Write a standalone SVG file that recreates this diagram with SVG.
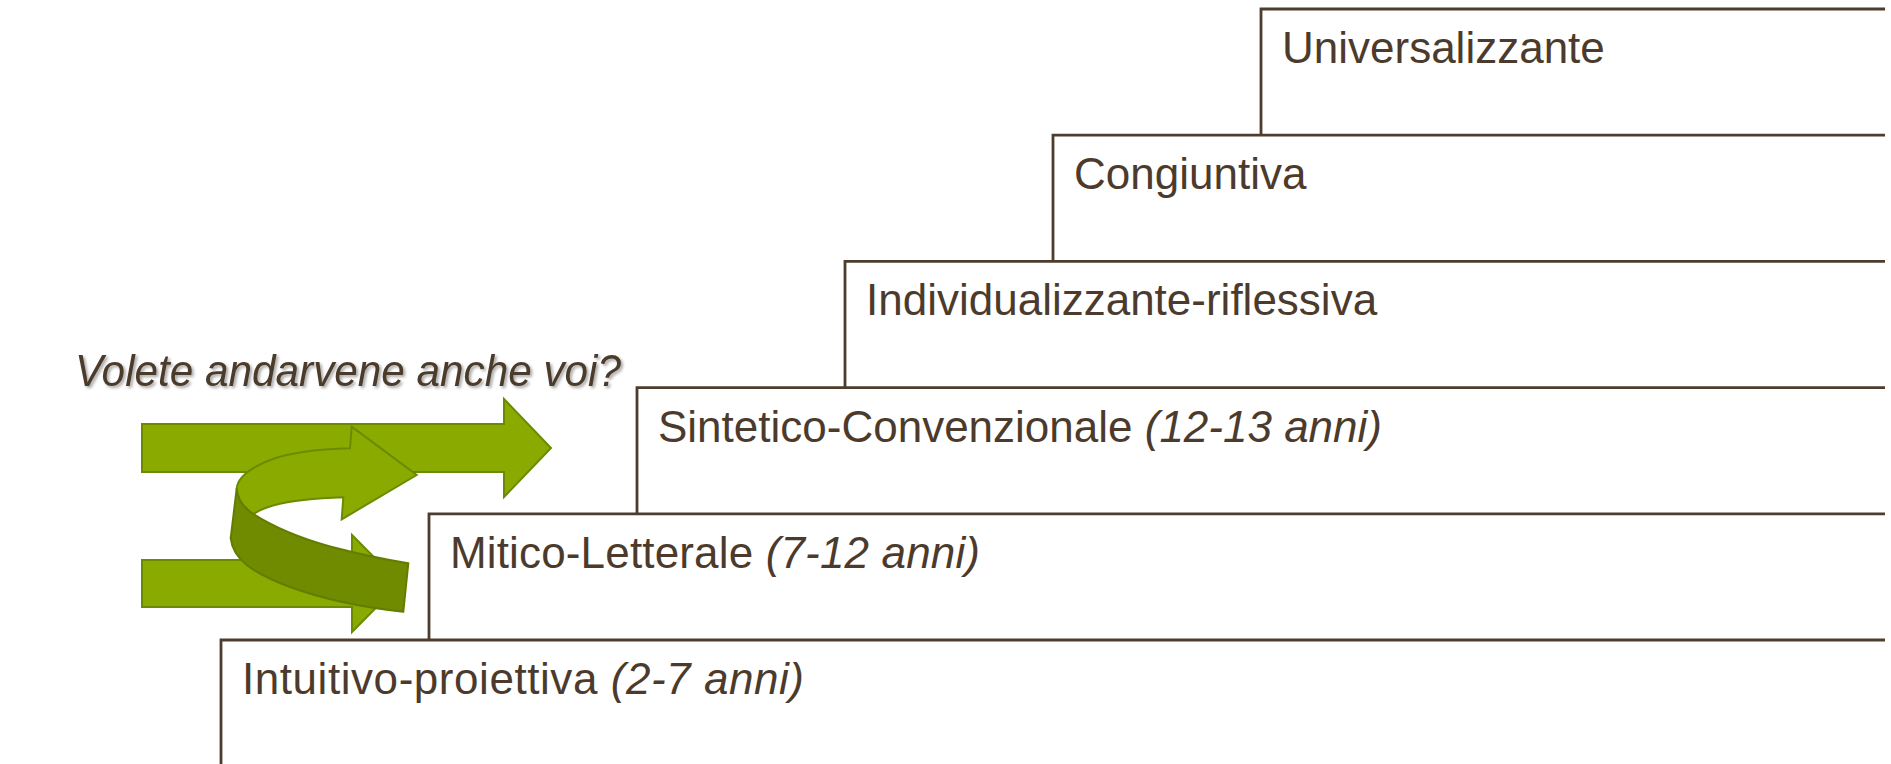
<svg xmlns="http://www.w3.org/2000/svg" width="1891" height="764" viewBox="0 0 1891 764">
<defs>
<filter id="sh" x="-5%" y="-30%" width="110%" height="160%">
<feDropShadow dx="2" dy="2" stdDeviation="1.5" flood-color="#000" flood-opacity="0.35"/>
</filter>
</defs>
<style>
.step{fill:none;stroke:#4d3d2e;stroke-width:2.8}
.lbl{font-family:"Liberation Sans",Arial,sans-serif;font-size:44px;fill:#4c3b2c}
.it{font-style:italic}
.arr{fill:#8aaa00;stroke:#6b8a00;stroke-width:2;stroke-linejoin:miter}
.dark{fill:#718b00;stroke:#627d00;stroke-width:2}
</style>
<rect width="1891" height="764" fill="#fff"/>
<g id="arrows">
<polygon class="arr" points="142,424 504,424 504,399 551,448 504,497 504,472 142,472"/>
<polygon class="arr" points="142,560 352,560 352,535 400,583.5 352,632 352,607 142,607"/>
<path class="arr" d="M236.7,488.3 C238,474 262,458 303,452 C320,449.5 335,448.6 350,448.3 L351.7,426.7 L416.7,475 L341.7,519.3 L343.3,497.3 C318,498 290,501 273,505.5 C264,508 258,511 253.3,514 C244,508 237,499 236.7,488.3 Z"/>
<path class="dark" d="M236.7,488.3 C237,499 244,508 253.3,514 C272,526 300,538 330,546.5 C355,553 382,559 408.3,563.3 L403.3,611.7 C360,607 320,598 290,587 C250,572 233,558 230.7,538.3 Z"/>
</g>
<g id="steps">
<g id="step-universalizzante">
<path class="step" d="M1261,135.2 V9 H1885"/>
<text class="lbl" x="1282" y="63">Universalizzante</text>
</g>
<g id="step-congiuntiva">
<path class="step" d="M1053,261.4 V135.2 H1885"/>
<text class="lbl" x="1074" y="189.2">Congiuntiva</text>
</g>
<g id="step-individualizzante">
<path class="step" d="M845,387.6 V261.4 H1885"/>
<text class="lbl" x="866" y="315.4">Individualizzante-riflessiva</text>
</g>
<g id="step-sintetico">
<path class="step" d="M637,513.8 V387.6 H1885"/>
<text class="lbl" x="658" y="441.6">Sintetico-Convenzionale <tspan class="it">(12-13 anni)</tspan></text>
</g>
<g id="step-mitico">
<path class="step" d="M429,640 V513.8 H1885"/>
<text class="lbl" x="450" y="567.8" textLength="530">Mitico-Letterale <tspan class="it">(7-12 anni)</tspan></text>
</g>
<g id="step-intuitivo">
<path class="step" d="M221,764 V640 H1885"/>
<text class="lbl" x="242" y="694" textLength="562">Intuitivo-proiettiva <tspan class="it">(2-7 anni)</tspan></text>
</g>
</g>
<g id="question">
<text class="lbl it" x="75" y="386" textLength="546" lengthAdjust="spacingAndGlyphs" filter="url(#sh)">Volete andarvene anche voi?</text>
</g>
</svg>
